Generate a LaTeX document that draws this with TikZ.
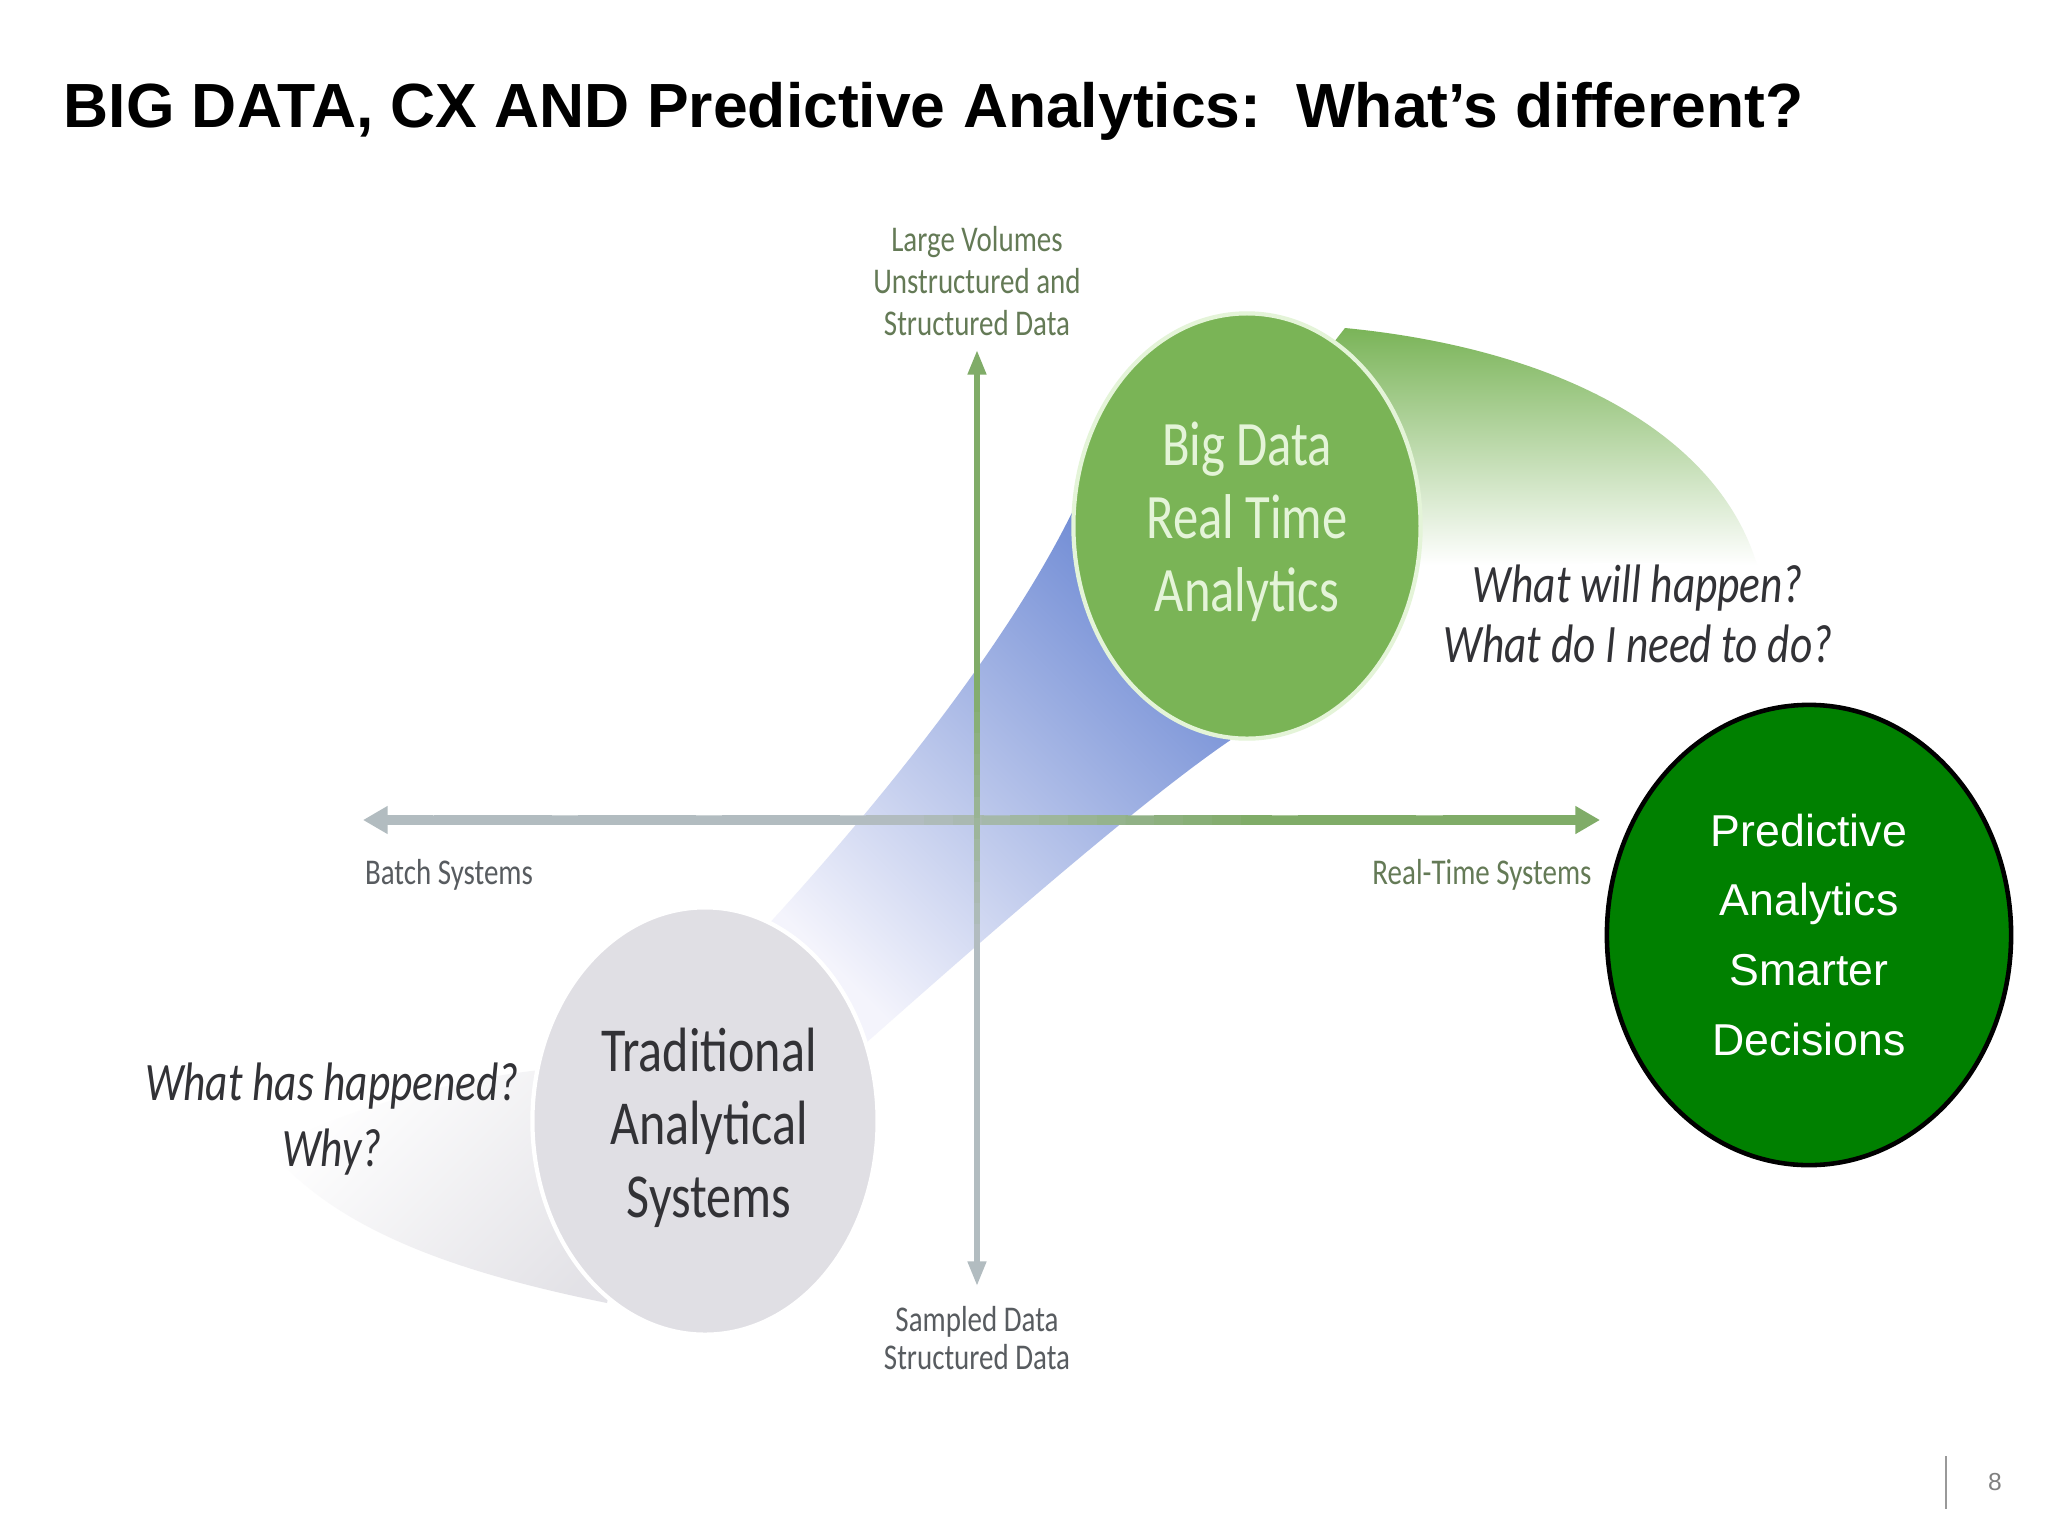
\documentclass[tikz,border=0pt]{standalone}
\usepackage{fontspec}
\setmainfont{Liberation Sans}
\newfontfamily\calfont[FakeStretch=0.8]{Carlito}
\usetikzlibrary{arrows.meta, calc, shapes.geometric}

\definecolor{bdgreen}{RGB}{122,180,86}
\definecolor{rimgreen}{RGB}{228,244,216}
\definecolor{ribgreen}{RGB}{122,180,88}
\definecolor{tagray}{RGB}{224,223,228}
\definecolor{pagreen}{RGB}{0,128,0}
\definecolor{bandblue}{RGB}{110,138,212}
\definecolor{bandpale}{RGB}{244,244,252}
\definecolor{axgreen}{RGB}{128,172,104}
\definecolor{axgray}{RGB}{178,188,192}
\definecolor{lblgreen}{RGB}{100,122,86}
\definecolor{lblgray}{RGB}{88,92,96}
\definecolor{txtdark}{RGB}{50,50,54}

\begin{document}
\begin{tikzpicture}[
  x=0.01cm, y=-0.01cm,
  blob/.style={ellipse, inner sep=0pt, align=center},
  axlabel/.style={align=center, font=\calfont\fontsize{10.3}{12}\selectfont},
  asklabel/.style={align=center, text=txtdark, font=\calfont\itshape\fontsize{15.4}{17}\selectfont},
  vaxis/.style={line width=1.6pt},
  haxis/.style={line width=2.7pt}
]

\useasboundingbox (0,0) rectangle (2048,1536);
\fill[white] (0,0) rectangle (2048,1536);

% Title
\node[anchor=base west, inner sep=0pt, font=\bfseries\fontsize{17.75}{21}\selectfont] (title) at (63,127) {BIG DATA, CX AND Predictive Analytics:\ \ What’s different?};

% Tails and band behind the circles
\shade[top color=white, bottom color=tagray!90, shading angle=45] (607,1303) .. controls (470,1275) and (340,1235) .. (270,1150) .. controls (340,1110) and (450,1080) .. (540,1070) -- (650,1100) -- cycle;
\shade[top color=ribgreen, bottom color=white] (1320,360) -- (1345,328) .. controls (1570,350) and (1720,440) .. (1757,565) .. controls (1650,560) and (1500,565) .. (1416,565) -- (1380,420) -- cycle;
\shade[top color=bandblue, bottom color=bandpale, shading angle=-45] (1078,500) .. controls (1008,650) and (857,828) .. (765,928) -- (858,1050) .. controls (960,960) and (1140,800) .. (1238,735) -- (1150,620) -- cycle;

% Circles
\node[blob, fill=bdgreen, draw=rimgreen, line width=1.2pt, minimum width=3.47cm, minimum height=4.25cm] (bigdata) at (1247,526) {};
\node[align=center, text=rimgreen, font=\calfont\fontsize{18}{20.8}\selectfont] (bigdatatxt) at (1247,522) {Big Data\\Real Time\\Analytics};
\node[blob, fill=tagray, draw=white, line width=1.2pt, minimum width=3.45cm, minimum height=4.27cm] (trad) at (705,1121) {};
\node[align=center, text=txtdark, font=\calfont\fontsize{17.8}{20.8}\selectfont] (tradtxt) at (709,1128) {Traditional\\Analytical\\Systems};
\node[blob, fill=pagreen, draw=black, line width=1.3pt, minimum width=4.04cm, minimum height=4.6cm, text=white, font=\fontsize{12.7}{19.9}\selectfont] (predict) at (1809,935) {Predictive\\Analytics\\Smarter\\Decisions};

% Axes
\coordinate (ytop) at (977,350);
\coordinate (ybot) at (977,1286);
\coordinate (xl) at (363,820);
\coordinate (xr) at (1600,820);
\coordinate (ytopin) at ($(ytop)!12pt!(ybot)$);
\coordinate (ybotin) at ($(ybot)!12pt!(ytop)$);
\coordinate (xlin) at ($(xl)!12pt!(xr)$);
\coordinate (xrin) at ($(xr)!12pt!(xl)$);

\foreach \k in {1,...,40} {
  \pgfmathsetmacro\ta{(\k-1)/40}
  \pgfmathsetmacro\tb{\k/40+0.002}
  \pgfmathtruncatemacro\mix{min(100,max(0,(\k-18)*100/12))}
  \draw[haxis, axgreen!\mix!axgray] ($(xlin)!\ta!(xrin)$) -- ($(xlin)!\tb!(xrin)$);
}
\foreach \k in {1,...,40} {
  \pgfmathsetmacro\ta{(\k-1)/40}
  \pgfmathsetmacro\tb{\k/40+0.002}
  \pgfmathtruncatemacro\mix{min(100,max(0,(\k-14)*100/12))}
  \draw[vaxis, axgray!\mix!axgreen] ($(ytopin)!\ta!(ybotin)$) -- ($(ytopin)!\tb!(ybotin)$);
}
\draw[haxis, axgray, -{Triangle[length=7pt, width=7.5pt]}] ($(xl)!20pt!(xr)$) -- (xl);
\draw[haxis, axgreen, -{Triangle[length=7pt, width=7.5pt]}] ($(xr)!20pt!(xl)$) -- (xr);
\draw[vaxis, axgreen, -{Triangle[length=7pt, width=5pt]}] ($(ytop)!20pt!(ybot)$) -- (ytop);
\draw[vaxis, axgray, -{Triangle[length=7pt, width=5pt]}] ($(ybot)!20pt!(ytop)$) -- (ybot);

% Axis labels
\node[axlabel, text=lblgreen] (volume) at (977,281) {Large Volumes\\Unstructured and\\Structured Data};
\node[axlabel, text=lblgray, font=\calfont\fontsize{10.3}{11}\selectfont] (sampled) at (977,1338) {Sampled Data\\Structured Data};
\node[axlabel, text=lblgray] (batch) at (449,875) {Batch Systems};
\node[axlabel, text=lblgreen] (realtime) at (1482,875) {Real-Time Systems};

% Questions
\node[asklabel] (future) at (1638,614) {What will happen?\\What do I need to do?};
\node[asklabel, font=\calfont\itshape\fontsize{15.4}{18.8}\selectfont] (past) at (332,1119) {What has happened?\\Why?};

% Page number
\coordinate (pgtop) at (1946,1456);
\coordinate (pgbot) at (1946,1509);
\draw[gray!80, line width=0.7pt] (pgtop) -- (pgbot);
\node[text=gray, font=\fontsize{7}{8}\selectfont] (pgnum) at (1995,1482) {8};

\end{tikzpicture}
\end{document}
